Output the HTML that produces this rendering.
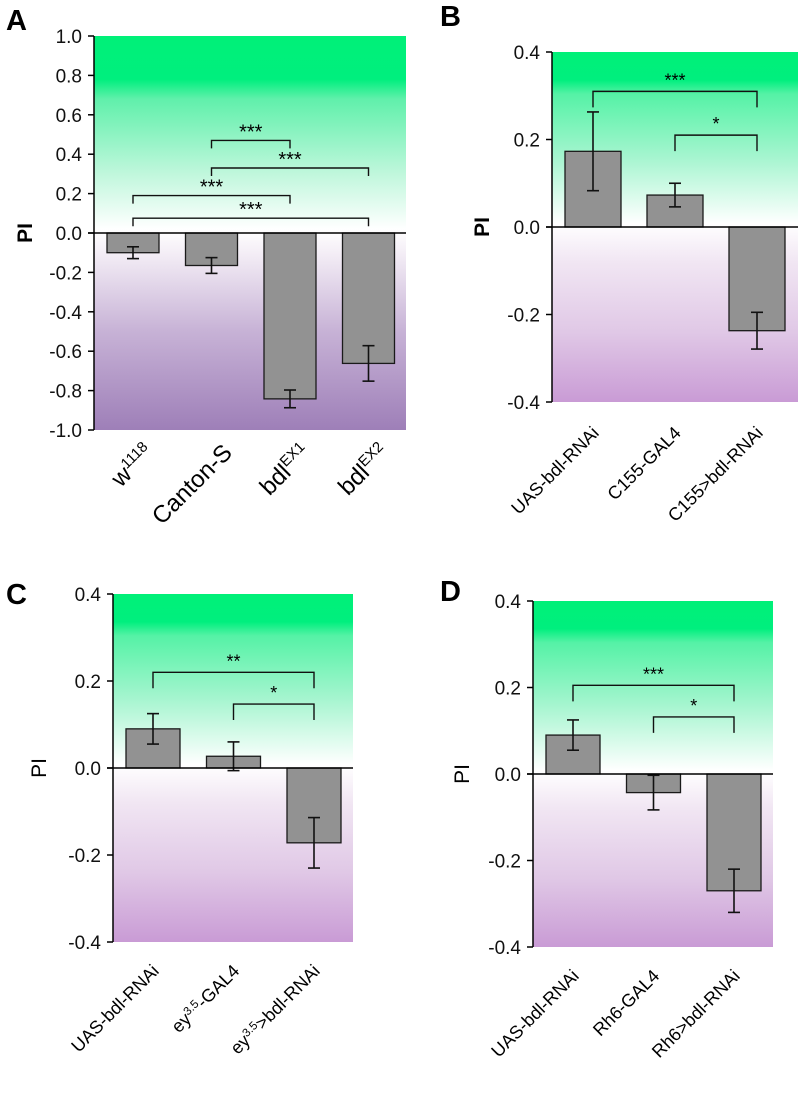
<!DOCTYPE html>
<html><head><meta charset="utf-8"><style>
html,body{margin:0;padding:0;background:#fff}
svg{display:block;font-family:"Liberation Sans",Arial,sans-serif}
</style></head><body>
<svg id="fig" width="800" height="1106" viewBox="0 0 800 1106">
<defs>
<linearGradient id="gA" x1="0" y1="0" x2="0" y2="1">
<stop offset="0" stop-color="#00f078"/><stop offset="0.11" stop-color="#00ef7e"/><stop offset="0.16" stop-color="#60f0ab"/><stop offset="0.35" stop-color="#c0f7dc"/><stop offset="0.49" stop-color="#ffffff"/><stop offset="0.55" stop-color="#f4eef6"/><stop offset="0.75" stop-color="#c7b2d6"/><stop offset="1" stop-color="#9e7fb8"/>
</linearGradient>
<linearGradient id="gB" x1="0" y1="0" x2="0" y2="1">
<stop offset="0" stop-color="#00f078"/><stop offset="0.08" stop-color="#00ef7e"/><stop offset="0.12" stop-color="#55f2a6"/><stop offset="0.3" stop-color="#a5f5cf"/><stop offset="0.49" stop-color="#ffffff"/><stop offset="0.6" stop-color="#f1e6f3"/><stop offset="0.8" stop-color="#e0c8e6"/><stop offset="1" stop-color="#c99bd5"/>
</linearGradient>
</defs>
</svg>
<script>
// Panel A data
const catsA = ["w", "Canton-S", "bdl", "bdl"];
const supA = ["1118", "", "EX1", "EX2"];
const valsA = [-0.10, -0.165, -0.842, -0.662];
const errsA = [0.03, 0.04, 0.045, 0.09];
const ticksA = [1.0, 0.8, 0.6, 0.4, 0.2, 0.0, -0.2, -0.4, -0.6, -0.8, -1.0];
const sigA = [[1, 2, 0.47, "***"], [1, 3, 0.33, "***"], [0, 2, 0.19, "***"], [0, 3, 0.075, "***"]];
// Panel B data
const catsB = ["UAS-bdl-RNAi", "C155-GAL4", "C155>bdl-RNAi"];
const valsB = [0.173, 0.073, -0.237];
const errsB = [0.09, 0.027, 0.042];
const ticksB = [0.4, 0.2, 0.0, -0.2, -0.4];
const sigB = [[0, 2, 0.31, "***"], [1, 2, 0.21, "*"]];
// Panel C data
const catsC = ["UAS-bdl-RNAi", "ey|3.5|-GAL4", "ey|3.5|>bdl-RNAi"];
const valsC = [0.09, 0.027, -0.172];
const errsC = [0.035, 0.033, 0.058];
const ticksC = [0.4, 0.2, 0.0, -0.2, -0.4];
const sigC = [[0, 2, 0.22, "**"], [1, 2, 0.147, "*"]];
// Panel D data
const catsD = ["UAS-bdl-RNAi", "Rh6-GAL4", "Rh6>bdl-RNAi"];
const valsD = [0.09, -0.043, -0.27];
const errsD = [0.035, 0.04, 0.05];
const ticksD = [0.4, 0.2, 0.0, -0.2, -0.4];
const sigD = [[0, 2, 0.205, "***"], [1, 2, 0.132, "*"]];

const NS = "http://www.w3.org/2000/svg";
const svg = document.getElementById("fig");
function mk(tag, attrs, parent, text) {
  const e = document.createElementNS(NS, tag);
  for (const k in attrs) e.setAttribute(k, attrs[k]);
  if (text !== undefined) e.textContent = text;
  (parent || svg).appendChild(e);
  return e;
}

function panel(p) {
  const g = mk("g", {});
  
  
  const ymax = p.ticks[0], ymin = p.ticks[p.ticks.length - 1];
  const y = v => p.top + (ymax - v) / (ymax - ymin) * (p.bottom - p.top);
  const x = i => p.axis + p.firstC + i * p.step;
  const bg = mk("rect", {x: p.axis, y: p.top, width: p.right - p.axis, height: p.bottom - p.top, fill: p.grad}, g);
  
  
  const ax = mk("line", {x1: p.axis, y1: p.top, x2: p.axis, y2: p.bottom, stroke: "#000", "stroke-width": 1.5}, g);
  
  
  p.ticks.forEach(t => {
    mk("line", {x1: p.axis - 6, y1: y(t), x2: p.axis, y2: y(t), stroke: "#000", "stroke-width": 1.5}, g);
    const tl = mk("text", {x: p.axis - 12, y: y(t) + 7, "text-anchor": "end", "font-size": p.tickFs, fill: "#111"}, g, t.toFixed(1));
    
    
  });
  const yt = mk("text", {x: 0, y: 0, "text-anchor": "middle", "font-size": p.yFs, "font-weight": p.yBold ? "bold" : "normal", transform: `translate(${p.yx},${y(0)}) rotate(-90)`}, g, "PI");
  
  
  const pl = mk("text", {x: p.lx, y: p.ly, "font-size": 29, "font-weight": "bold"}, g, p.id);
  
  
  p.vals.forEach((v, i) => {
    const y0 = y(0), yv = y(v);
    const b = mk("rect", {x: x(i) - p.bw / 2, y: Math.min(y0, yv), width: p.bw, height: Math.abs(yv - y0), fill: "#929292", stroke: "#1a1a1a", "stroke-width": 1.3}, g);
    
    
    const e = p.errs[i];
    const eg = mk("g", {stroke: "#111", "stroke-width": 1.6}, g);
    
    
    mk("line", {x1: x(i), y1: y(v + e), x2: x(i), y2: y(v - e)}, eg);
    mk("line", {x1: x(i) - 6, y1: y(v + e), x2: x(i) + 6, y2: y(v + e)}, eg);
    mk("line", {x1: x(i) - 6, y1: y(v - e), x2: x(i) + 6, y2: y(v - e)}, eg);
  });
  const zl = mk("line", {x1: p.axis - 6, y1: y(0), x2: p.right, y2: y(0), stroke: "#000", "stroke-width": 1.5}, g);
  
  
  p.sig.forEach(s => {
    const a = x(s[0]), b = x(s[1]), yy = y(s[2]);
    const sg = mk("g", {}, g);
    
    
    mk("path", {d: `M${a},${yy + p.tick} V${yy} H${b} V${yy + p.tick}`, fill: "none", stroke: "#111", "stroke-width": 1.4}, sg);
    mk("text", {x: (a + b) / 2, y: yy - p.starGap, "text-anchor": "middle", "font-size": p.starFs}, sg, s[3]);
  });
  p.cats.forEach((c, i) => {
    const t = mk("text", {x: 0, y: 0, "text-anchor": "end", "font-size": p.xFs, transform: `translate(${x(i) + p.xdx},${p.xy}) rotate(-45)`}, g);
    
    
    if (p.sup) {
      mk("tspan", {}, t, c);
      if (p.sup[i]) mk("tspan", {"font-size": p.xFs * 0.62, dy: -9}, t, p.sup[i]);
    } else {
      const parts = c.split("|");
      parts.forEach((pt, k) => {
        if (k === 1) mk("tspan", {"font-size": p.xFs * 0.65, dy: -6}, t, pt);
        else if (k === 2) mk("tspan", {dy: 6}, t, pt);
        else mk("tspan", {}, t, pt);
      });
    }
  });
}

panel({id: "A", cats: catsA, sup: supA, vals: valsA, errs: errsA, ticks: ticksA, sig: sigA,
  axis: 94, right: 406, top: 36, bottom: 430, firstC: 39, step: 78.5, bw: 52, grad: "url(#gA)",
  tickFs: 19, yFs: 21, yBold: true, yx: 32, lx: 6, ly: 30, starFs: 20, starGap: 2, tick: 8,
  xFs: 24, xdx: 22, xy: 454});
panel({id: "B", cats: catsB, vals: valsB, errs: errsB, ticks: ticksB, sig: sigB,
  axis: 552, right: 798, top: 52, bottom: 402, firstC: 41, step: 82, bw: 56, grad: "url(#gB)",
  tickFs: 19, yFs: 21, yBold: true, yx: 489, lx: 440, ly: 26, starFs: 18, starGap: 5, tick: 16,
  xFs: 18, xdx: 7, xy: 434});
panel({id: "C", cats: catsC, vals: valsC, errs: errsC, ticks: ticksC, sig: sigC,
  axis: 113, right: 353, top: 594, bottom: 942, firstC: 40, step: 80.5, bw: 54, grad: "url(#gB)",
  tickFs: 19, yFs: 21, yBold: false, yx: 46, lx: 6, ly: 604, starFs: 18, starGap: 5, tick: 16,
  xFs: 18, xdx: 7, xy: 972});
panel({id: "D", cats: catsD, vals: valsD, errs: errsD, ticks: ticksD, sig: sigD,
  axis: 533, right: 773, top: 601, bottom: 947, firstC: 40, step: 80.5, bw: 54, grad: "url(#gB)",
  tickFs: 19, yFs: 21, yBold: false, yx: 469, lx: 440, ly: 601, starFs: 18, starGap: 5, tick: 16,
  xFs: 18, xdx: 7, xy: 977});
</script>
</body></html>
